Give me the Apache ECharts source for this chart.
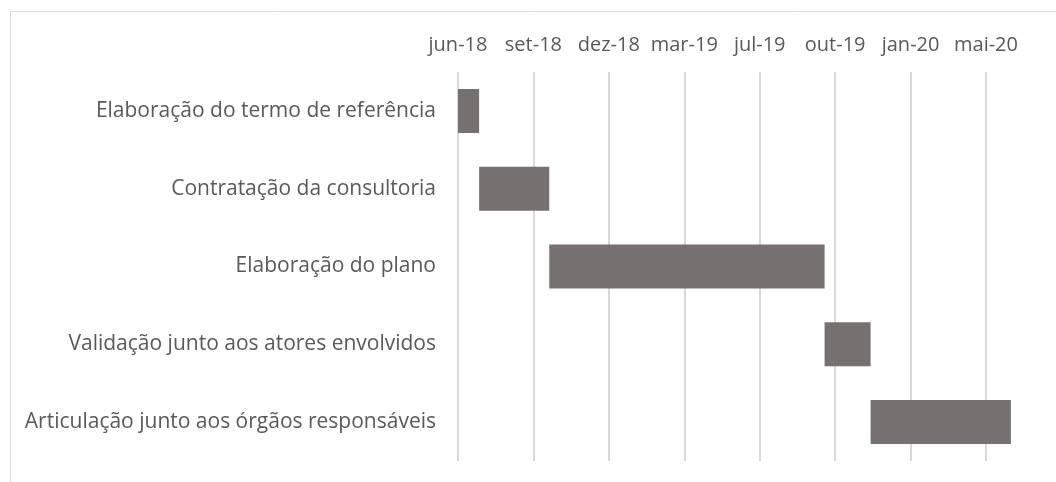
<!DOCTYPE html>
<html>
<head>
<meta charset="utf-8">
<script src="https://cdn.jsdelivr.net/npm/echarts@6/dist/echarts.min.js"></script>
<style>
  html, body { margin: 0; padding: 0; background: #fff; }
  #grafico { width: 1056px; height: 482px; }
</style>
</head>
<body>
<div id="grafico"></div>
<script>
// etapas do cronograma (de cima para baixo)
var etapas = [
  'Elaboração do termo de referência',
  'Contratação da consultoria',
  'Elaboração do plano',
  'Validação junto aos atores envolvidos',
  'Articulação junto aos órgãos responsáveis'
];
var inicio = ['2018-06-01', '2018-06-29', '2018-09-30', '2019-09-30', '2019-11-30'];
var fim    = ['2018-06-29', '2018-09-30', '2019-09-30', '2019-11-30', '2020-06-03'];
var dataBase = '2018-06-01';   // origem do eixo (jun-18)
var meses = ['jan','fev','mar','abr','mai','jun','jul','ago','set','out','nov','dez'];

function dias(str) {
  var p = str.split('-');
  var b = dataBase.split('-');
  return Math.round((Date.UTC(+p[0], +p[1] - 1, +p[2]) - Date.UTC(+b[0], +b[1] - 1, +b[2])) / 86400000);
}
function rotulo(v) {
  var b = dataBase.split('-');
  var d = new Date(Date.UTC(+b[0], +b[1] - 1, +b[2]) + v * 86400000);
  return meses[d.getUTCMonth()] + '-' + String(d.getUTCFullYear()).slice(2);
}

var base = inicio.map(dias);
var duracao = fim.map(function (f, i) { return dias(f) - base[i]; });

var chart = echarts.init(document.getElementById('grafico'));
var fonte = 'Open Sans';
chart.setOption({
  animation: false,
  graphic: [{
    type: 'rect', left: 8, top: 9,
    shape: { width: 1100, height: 520 },
    style: { fill: 'none', stroke: '#d9d9d9', lineWidth: 1 },
    silent: true
  }],
  grid: { left: 458, right: 70, top: 72, bottom: 21 },
  xAxis: {
    type: 'value',
    position: 'top',
    min: 0, max: 700, interval: 100,
    axisLine: { show: false },
    axisTick: { show: false },
    splitLine: { lineStyle: { color: '#d9d9d9', width: 2 } },
    axisLabel: {
      formatter: rotulo,
      color: '#595959', fontSize: 20, fontFamily: fonte, margin: 17
    }
  },
  yAxis: {
    type: 'category',
    inverse: true,
    data: etapas,
    axisLine: { show: false },
    axisTick: { show: false },
    axisLabel: { color: '#595959', fontSize: 21, fontFamily: fonte, margin: 22 }
  },
  series: [
    {
      name: 'inicio', type: 'bar', stack: 'g', data: base,
      barWidth: 44, clip: false,
      itemStyle: { color: 'transparent' }, silent: true
    },
    {
      name: 'duracao', type: 'bar', stack: 'g', data: duracao,
      barWidth: 44, clip: false,
      itemStyle: { color: '#767171' }
    }
  ]
});
</script>
</body>
</html>
